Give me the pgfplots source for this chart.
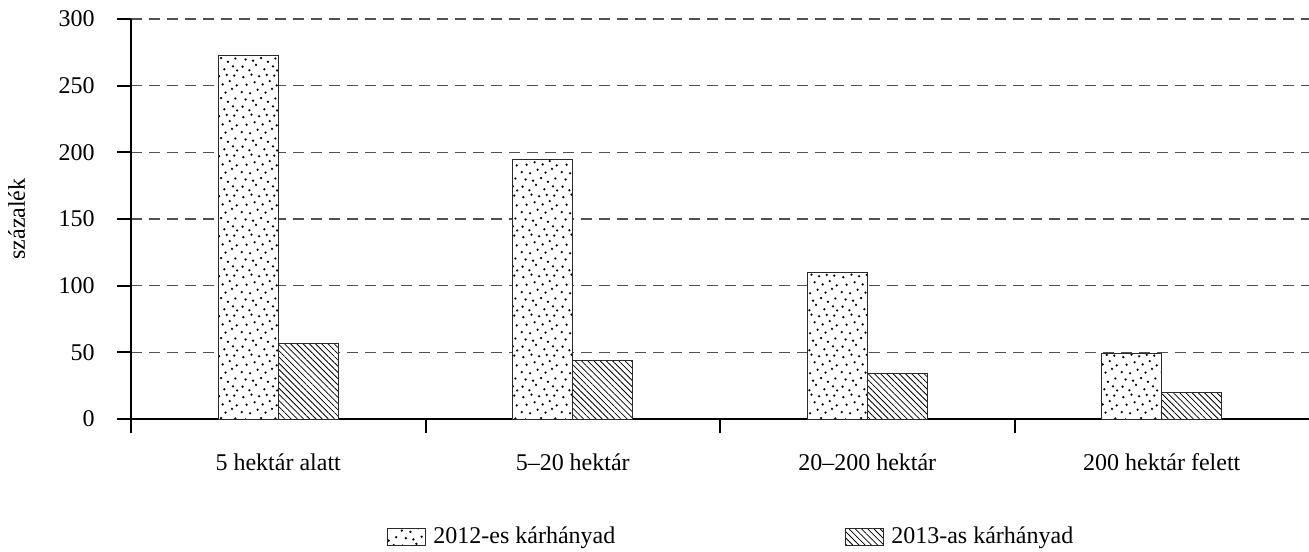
\documentclass[border=0pt]{standalone}
\usepackage{fontspec}
\setmainfont{Liberation Serif}
\usepackage{pgfplots}
\pgfplotsset{compat=1.18}
\usetikzlibrary{patterns,patterns.meta}
\pgfdeclarepatternformonly{rdots}{\pgfqpoint{0pt}{0pt}}{\pgfqpoint{20pt}{20pt}}{\pgfqpoint{20pt}{20pt}}{%
  \pgfpathcircle{\pgfqpoint{1.3pt}{2.7pt}}{0.65pt}
  \pgfpathcircle{\pgfqpoint{4.8pt}{0.9pt}}{0.65pt}
  \pgfpathcircle{\pgfqpoint{8.2pt}{3.6pt}}{0.65pt}
  \pgfpathcircle{\pgfqpoint{12.5pt}{1.4pt}}{0.65pt}
  \pgfpathcircle{\pgfqpoint{16.9pt}{2.9pt}}{0.65pt}
  \pgfpathcircle{\pgfqpoint{19.0pt}{0.8pt}}{0.65pt}
  \pgfpathcircle{\pgfqpoint{2.9pt}{6.4pt}}{0.65pt}
  \pgfpathcircle{\pgfqpoint{6.7pt}{5.8pt}}{0.65pt}
  \pgfpathcircle{\pgfqpoint{10.8pt}{7.1pt}}{0.65pt}
  \pgfpathcircle{\pgfqpoint{14.3pt}{5.2pt}}{0.65pt}
  \pgfpathcircle{\pgfqpoint{18.1pt}{6.9pt}}{0.65pt}
  \pgfpathcircle{\pgfqpoint{0.9pt}{10.2pt}}{0.65pt}
  \pgfpathcircle{\pgfqpoint{5.2pt}{9.6pt}}{0.65pt}
  \pgfpathcircle{\pgfqpoint{9.0pt}{11.4pt}}{0.65pt}
  \pgfpathcircle{\pgfqpoint{13.1pt}{9.9pt}}{0.65pt}
  \pgfpathcircle{\pgfqpoint{16.4pt}{11.8pt}}{0.65pt}
  \pgfpathcircle{\pgfqpoint{3.4pt}{13.9pt}}{0.65pt}
  \pgfpathcircle{\pgfqpoint{7.5pt}{15.2pt}}{0.65pt}
  \pgfpathcircle{\pgfqpoint{11.6pt}{14.1pt}}{0.65pt}
  \pgfpathcircle{\pgfqpoint{15.2pt}{15.8pt}}{0.65pt}
  \pgfpathcircle{\pgfqpoint{18.8pt}{13.6pt}}{0.65pt}
  \pgfpathcircle{\pgfqpoint{1.7pt}{17.8pt}}{0.65pt}
  \pgfpathcircle{\pgfqpoint{5.9pt}{19.1pt}}{0.65pt}
  \pgfpathcircle{\pgfqpoint{9.8pt}{18.3pt}}{0.65pt}
  \pgfpathcircle{\pgfqpoint{13.7pt}{19.0pt}}{0.65pt}
  \pgfpathcircle{\pgfqpoint{17.5pt}{18.6pt}}{0.65pt}
  \pgfusepath{fill}
}
\definecolor{gridgray}{HTML}{505050}
\definecolor{edgegray}{HTML}{2a2a2a}
\begin{document}
\fontsize{12}{14.4}\selectfont
\begin{tikzpicture}
\pgfplotstableread{
x y2012 y2013
0.5 273 57
1.5 195 44
2.5 110 34
3.5 49 20
}\datatable
\begin{axis}[
  scale only axis,
  width=589pt, height=200pt,
  xmin=0, xmax=4, ymin=0, ymax=300,
  axis x line*=bottom, axis y line*=left,
  axis line style={line width=1pt, -},
  xtick={0,1,2,3}, xticklabels={},
  extra x ticks={0.5,1.5,2.5,3.5},
  extra x tick labels={5 hektár alatt,5–20 hektár,20–200 hektár,200 hektár felett},
  extra x tick style={major tick length=0pt, grid=none, tick label style={yshift=-13pt}},
  ytick={0,50,...,300},
  tick align=outside,
  major tick length=7pt,
  tick style={line width=1pt, black},
  ymajorgrids,
  major grid style={gridgray, line width=0.7pt, dash pattern=on 5.5pt off 3.5pt},
  /pgf/number format/assume math mode=true,
  yticklabel style={xshift=-7pt},
  ylabel={százalék},
  ylabel style={at={(axis description cs:-0.097,0.5)}, anchor=center},
  ybar, bar width=30pt,
  legend style={at={(axis description cs:0.2173,-0.295)}, anchor=west, draw=none, fill=none,
     inner sep=0pt,
     legend columns=2, /tikz/every even column/.append style={column sep=113pt},
     legend cell align=left},
  legend image code/.code={\draw[#1] (0pt,-4.25pt) rectangle (19pt,4.25pt); \path (20.5pt,0pt);},
  clip=false,
]
\addplot[draw=edgegray, line width=0.5pt, fill=white, postaction={pattern=rdots}, bar shift=-15pt] table[x=x,y=y2012]{\datatable};
\addlegendentry{2012-es kárhányad}
\addplot[draw=edgegray, line width=0.5pt, fill=white, postaction={pattern={Lines[angle=-45,distance=2.2pt,line width=0.4pt]}}, bar shift=15pt] table[x=x,y=y2013]{\datatable};
\addlegendentry{2013-as kárhányad}
\end{axis}
\pgfresetboundingbox
\path[use as bounding box] (-65.5pt,-66pt) rectangle (589pt,209.5pt);
\end{tikzpicture}
\end{document}
